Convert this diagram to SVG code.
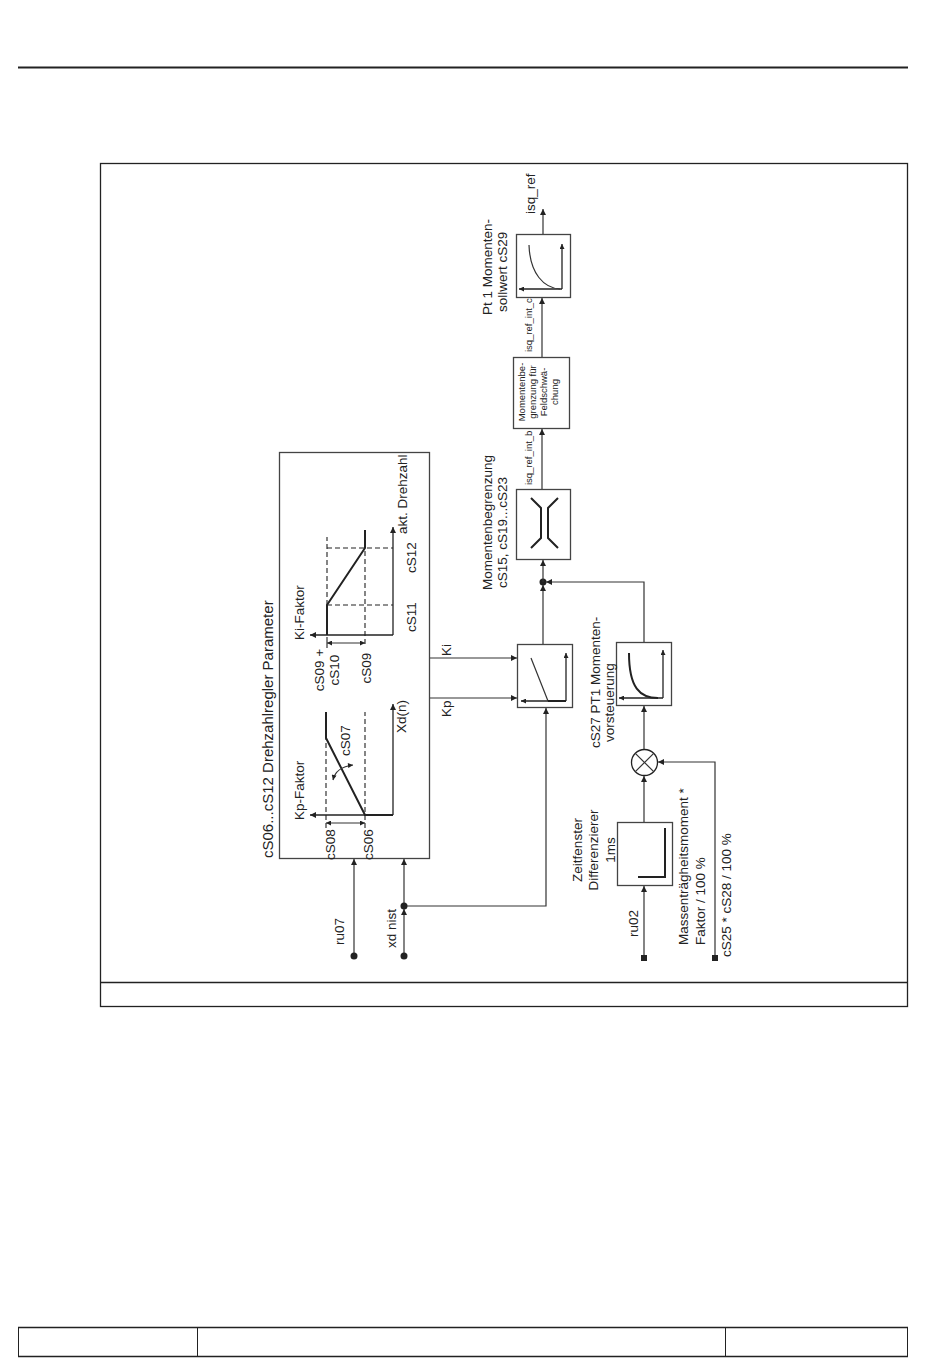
<svg xmlns="http://www.w3.org/2000/svg" width="950" height="1369" viewBox="0 0 950 1369">
<defs>
<marker id="arr" viewBox="0 0 10 10" refX="10" refY="5" markerWidth="8" markerHeight="6" markerUnits="userSpaceOnUse" orient="auto-start-reverse"><path d="M0,0 L10,5 L0,10 z" fill="#222"/></marker>
<marker id="arrs" viewBox="0 0 10 10" refX="10" refY="5" markerWidth="6" markerHeight="5" markerUnits="userSpaceOnUse" orient="auto-start-reverse"><path d="M0,0 L10,5 L0,10 z" fill="#222"/></marker>
</defs>
<style>
text{font-family:"Liberation Sans",Arial,sans-serif;fill:#222;font-size:13.5px}
.tt{font-size:15px}
.sm{font-size:9.5px}
.box{fill:#fff;stroke:#444;stroke-width:1.3}
.ln{fill:none;stroke:#333;stroke-width:1.2}
.th{fill:none;stroke:#222;stroke-width:2}
.ds{fill:none;stroke:#222;stroke-width:1.1;stroke-dasharray:5,3}
.ax{fill:none;stroke:#222;stroke-width:1.3}
.dot{fill:#222}
</style>
<rect width="950" height="1369" fill="#fff"/>
<!-- page header/footer -->
<line x1="18" y1="67.5" x2="908" y2="67.5" stroke="#222" stroke-width="2"/>
<g id="footer">
<line x1="18" y1="1327.5" x2="908" y2="1327.5" stroke="#222" stroke-width="1.5"/>
<line x1="18" y1="1356.5" x2="908" y2="1356.5" stroke="#222" stroke-width="1.5"/>
<line x1="18.5" y1="1327" x2="18.5" y2="1357" stroke="#222" stroke-width="1"/>
<line x1="197.5" y1="1327" x2="197.5" y2="1357" stroke="#222" stroke-width="1"/>
<line x1="725.5" y1="1327" x2="725.5" y2="1357" stroke="#222" stroke-width="1"/>
<line x1="907.5" y1="1327" x2="907.5" y2="1357" stroke="#222" stroke-width="1"/>
</g>
<g id="frame">
<rect x="100.5" y="163.5" width="807" height="843" fill="none" stroke="#222" stroke-width="1.3"/>
<line x1="100" y1="982.5" x2="908" y2="982.5" stroke="#222" stroke-width="1.3"/>
</g>

<!-- Drehzahlregler parameter block -->
<g id="param">
<rect class="box" x="279.5" y="452.5" width="150" height="406"/>
<text class="tt" transform="translate(273,858) rotate(-90)">cS06...cS12 Drehzahlregler Parameter</text>
<!-- Ki graph -->
<line class="ax" x1="393" y1="635" x2="310" y2="635" marker-end="url(#arr)"/>
<line class="ax" x1="393" y1="635" x2="393" y2="527" marker-end="url(#arr)"/>
<line class="ds" x1="327" y1="605" x2="327" y2="537"/>
<line class="ds" x1="365" y1="644" x2="365" y2="537"/>
<line class="ds" x1="327" y1="605" x2="393" y2="605"/>
<line class="ds" x1="327" y1="548" x2="393" y2="548"/>
<polyline class="th" points="327,635 327,605 365,548 365,530"/>
<line class="ln" x1="327" y1="643" x2="365" y2="643" marker-start="url(#arrs)" marker-end="url(#arrs)"/>
<line class="ln" x1="327" y1="637" x2="327" y2="648"/>
<text transform="translate(304,640) rotate(-90)">Ki-Faktor</text>
<text transform="translate(324,670) rotate(-90)" text-anchor="middle">cS09 +</text>
<text transform="translate(339,670) rotate(-90)" text-anchor="middle">cS10</text>
<text transform="translate(371,668) rotate(-90)" text-anchor="middle">cS09</text>
<text transform="translate(416,632) rotate(-90)">cS11</text>
<text transform="translate(416,573) rotate(-90)">cS12</text>
<text transform="translate(407,534) rotate(-90)">akt. Drehzahl</text>
<!-- Kp graph -->
<line class="ax" x1="393" y1="815" x2="310" y2="815" marker-end="url(#arr)"/>
<line class="ax" x1="393" y1="815" x2="393" y2="704" marker-end="url(#arr)"/>
<line class="ds" x1="326" y1="828" x2="326" y2="712"/>
<line class="ds" x1="365" y1="828" x2="365" y2="712"/>
<polyline class="th" points="393,815 365,815 326,738 326,712"/>
<line class="ln" x1="326" y1="823" x2="365" y2="823" marker-start="url(#arrs)" marker-end="url(#arrs)"/>
<path class="ln" d="M333,780 Q336,767 353,765" marker-start="url(#arrs)" marker-end="url(#arrs)"/>
<text transform="translate(304,820) rotate(-90)">Kp-Faktor</text>
<text transform="translate(335,860) rotate(-90)">cS08</text>
<text transform="translate(373,860) rotate(-90)">cS06</text>
<text transform="translate(350,756) rotate(-90)">cS07</text>
<text transform="translate(406,733) rotate(-90)">Xd(n)</text>
</g>

<!-- PI controller -->
<g id="controller">
<rect class="box" x="517.5" y="644.5" width="55" height="63"/>
<line class="ax" x1="566" y1="701" x2="521" y2="701" marker-end="url(#arrs)"/>
<line class="ax" x1="566" y1="701" x2="566" y2="653" marker-end="url(#arrs)"/>
<line class="ln" x1="531" y1="658" x2="548" y2="701"/>
<line class="th" x1="548" y1="701" x2="566" y2="701"/>
</g>

<!-- PT1 Vorsteuerung -->
<g id="pt1vor">
<rect class="box" x="616.5" y="642.5" width="55" height="63"/>
<line class="ax" x1="663" y1="698" x2="619" y2="698" marker-end="url(#arrs)"/>
<line class="ax" x1="663" y1="698" x2="663" y2="650" marker-end="url(#arrs)"/>
<path class="th" d="M629,653 C629,688 640,698 658,698"/>
<text transform="translate(600,748) rotate(-90)">cS27 PT1 Momenten-</text>
<text transform="translate(614,742) rotate(-90)">vorsteuerung</text>
</g>

<!-- multiplier -->
<g id="mult">
<circle cx="644.5" cy="762.5" r="13" fill="#fff" stroke="#222" stroke-width="1.3"/>
<line class="ln" x1="635.3" y1="753.3" x2="653.7" y2="771.7"/>
<line class="ln" x1="653.7" y1="753.3" x2="635.3" y2="771.7"/>
</g>

<!-- Differenzierer -->
<g id="diff">
<rect class="box" x="617.5" y="822.5" width="55" height="63"/>
<polyline class="th" points="665,828 665,877 638,877"/>
<text transform="translate(582,850) rotate(-90)" text-anchor="middle">Zeitfenster</text>
<text transform="translate(598,850) rotate(-90)" text-anchor="middle">Differenzierer</text>
<text transform="translate(615,850) rotate(-90)" text-anchor="middle">1ms</text>
</g>

<!-- Momentenbegrenzung -->
<g id="mbegr">
<rect class="box" x="516.5" y="489.5" width="54" height="70"/>
<polyline class="th" points="531,498 541,508 541,538 531,548"/>
<polyline class="th" points="558,498 548,508 548,538 558,548"/>
<text transform="translate(492,590) rotate(-90)">Momentenbegrenzung</text>
<text transform="translate(507,588) rotate(-90)">cS15, cS19...cS23</text>
</g>

<!-- Feldschwaechung -->
<g id="feld">
<rect class="box" x="513.5" y="357.5" width="56" height="71"/>
<text class="sm" transform="translate(525,392) rotate(-90)" text-anchor="middle">Momentenbe-</text>
<text class="sm" transform="translate(536,392) rotate(-90)" text-anchor="middle">grenzung für</text>
<text class="sm" transform="translate(547,392) rotate(-90)" text-anchor="middle">Feldschwä-</text>
<text class="sm" transform="translate(558,392) rotate(-90)" text-anchor="middle">chung</text>
</g>

<!-- PT1 Sollwert -->
<g id="pt1soll">
<rect class="box" x="516.5" y="234.5" width="54" height="63"/>
<line class="ax" x1="562" y1="289" x2="519" y2="289" marker-end="url(#arrs)"/>
<line class="ax" x1="562" y1="289" x2="562" y2="244" marker-end="url(#arrs)"/>
<path class="ln" d="M529,245 C530,274 544,288 560,289"/>
<text transform="translate(492,315) rotate(-90)">Pt 1 Momenten-</text>
<text transform="translate(507,312) rotate(-90)">sollwert cS29</text>
</g>

<!-- connectors -->
<g id="connectors">
<line class="ln" x1="354" y1="956" x2="354" y2="859" marker-end="url(#arr)"/>
<circle class="dot" cx="354" cy="956" r="3.5"/>
<line class="ln" x1="404" y1="956" x2="404" y2="909" marker-end="url(#arr)"/>
<circle class="dot" cx="404" cy="956" r="3.5"/>
<line class="ln" x1="404" y1="906" x2="404" y2="859" marker-end="url(#arr)"/>
<polyline class="ln" points="404,906 546,906 546,708" marker-end="url(#arr)"/>
<circle class="dot" cx="404" cy="906" r="3.5"/>
<line class="ln" x1="430" y1="658" x2="517" y2="658" marker-end="url(#arr)"/>
<line class="ln" x1="430" y1="698" x2="517" y2="698" marker-end="url(#arr)"/>
<line class="ln" x1="543" y1="644" x2="543" y2="585" marker-end="url(#arr)"/>
<circle class="dot" cx="543" cy="582" r="3.5"/>
<line class="ln" x1="543" y1="582" x2="543" y2="560" marker-end="url(#arr)"/>
<polyline class="ln" points="644,642 644,582 546,582" marker-end="url(#arr)"/>
<line class="ln" x1="542" y1="489" x2="542" y2="429" marker-end="url(#arr)"/>
<line class="ln" x1="542" y1="357" x2="542" y2="298" marker-end="url(#arr)"/>
<line class="ln" x1="543" y1="234" x2="543" y2="209" marker-end="url(#arr)"/>
<line class="ln" x1="644" y1="958" x2="644" y2="886" marker-end="url(#arr)"/>
<rect class="dot" x="641" y="955" width="6" height="6"/>
<line class="ln" x1="644" y1="822" x2="644" y2="776" marker-end="url(#arr)"/>
<line class="ln" x1="644" y1="749" x2="644" y2="706" marker-end="url(#arr)"/>
<polyline class="ln" points="715,958 715,762 658,762" marker-end="url(#arr)"/>
<rect class="dot" x="712" y="955" width="6" height="6"/>
</g>

<!-- connector labels -->
<g id="labels">
<text transform="translate(451,656) rotate(-90)">Ki</text>
<text transform="translate(451,717) rotate(-90)">Kp</text>
<text transform="translate(344,945) rotate(-90)">ru07</text>
<text transform="translate(396,948) rotate(-90)">xd nist</text>
<text transform="translate(638,937) rotate(-90)">ru02</text>
<text transform="translate(688,945) rotate(-90)">Massenträgheitsmoment *</text>
<text transform="translate(705,945) rotate(-90)">Faktor / 100 %</text>
<text transform="translate(731,957) rotate(-90)">cS25 * cS28 / 100 %</text>
<text class="sm" transform="translate(532,485) rotate(-90)">isq_ref_int_b</text>
<text class="sm" transform="translate(532,352) rotate(-90)">isq_ref_int_c</text>
<text transform="translate(535,214) rotate(-90)">isq_ref</text>
</g>
</svg>
